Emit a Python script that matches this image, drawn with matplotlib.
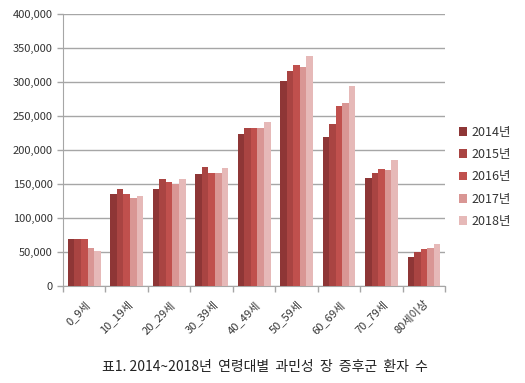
import matplotlib
matplotlib.use("Agg")
import matplotlib.pyplot as plt
import numpy as np
from matplotlib.ticker import FuncFormatter, FixedLocator
from matplotlib.patches import Patch

plt.rcParams['font.family'] = ['Noto Sans CJK KR', 'DejaVu Sans']

categories = ["0_9세", "10_19세", "20_29세", "30_39세", "40_49세", "50_59세", "60_69세", "70_79세", "80세이상"]
years = ["2014년", "2015년", "2016년", "2017년", "2018년"]
v2014 = [70000, 135000, 143000, 165000, 224000, 301000, 219000, 159000, 43000]
v2015 = [69000, 143000, 157000, 175000, 233000, 316000, 239000, 167000, 50000]
v2016 = [70000, 135000, 153000, 167000, 232000, 325000, 265000, 172000, 54000]
v2017 = [56000, 129000, 150000, 167000, 233000, 323000, 270000, 171000, 56000]
v2018 = [52000, 132000, 157000, 174000, 241000, 339000, 295000, 185000, 62000]
series = [v2014, v2015, v2016, v2017, v2018]
colors = ["#8E3636", "#A94442", "#C0504D", "#D99694", "#E6B9B8"]

fig = plt.figure(figsize=(5.25, 3.83), dpi=100)
ax = fig.add_axes([0.12, 0.253, 0.728, 0.71])

n = len(categories)
x = np.arange(n)
bw = 0.155
for i, (s, c) in enumerate(zip(series, colors)):
    ax.bar(x + (i - 2) * bw, s, width=bw, color=c, label=years[i], zorder=3, linewidth=0)

ax.set_xlim(-0.5, n - 0.5)
ax.set_ylim(0, 400000)
ax.set_yticks(np.arange(0, 400001, 50000))
ax.yaxis.set_major_formatter(FuncFormatter(lambda v, p: f"{int(v):,}"))
ax.grid(axis='y', color='#a6a6a6', linewidth=1.0, zorder=0)
for sp in ['top', 'right']:
    ax.spines[sp].set_visible(False)
for sp in ['left', 'bottom']:
    ax.spines[sp].set_color('#a6a6a6')
ax.tick_params(axis='y', colors='#a6a6a6', labelcolor='#333333', labelsize=8, length=4, width=1)
ax.set_xticks(np.arange(-0.5, n, 1.0))
ax.set_xticklabels([])
ax.xaxis.set_minor_locator(FixedLocator(x))
ax.set_xticklabels(categories, minor=True, rotation=45, ha='right', rotation_mode='anchor', fontsize=8, color='#333333')
ax.tick_params(axis='x', which='major', colors='#a6a6a6', length=4, width=1)
ax.tick_params(axis='x', which='minor', length=0, pad=9)

handles = [Patch(facecolor=c, label=y) for c, y in zip(colors, years)]
fig.legend(handles=handles, loc='upper left', bbox_to_anchor=(0.864, 0.685), frameon=False,
           fontsize=9, handlelength=0.7, handleheight=0.7, handletextpad=0.3, labelspacing=0.75,
           borderaxespad=0, labelcolor='#333333')

fig.text(0.505, 0.042, "표1. 2014~2018년  연령대별  과민성  장  증후군  환자  수", ha='center', va='center', fontsize=10, color='#222222')

fig.savefig("out.png", dpi=100)
